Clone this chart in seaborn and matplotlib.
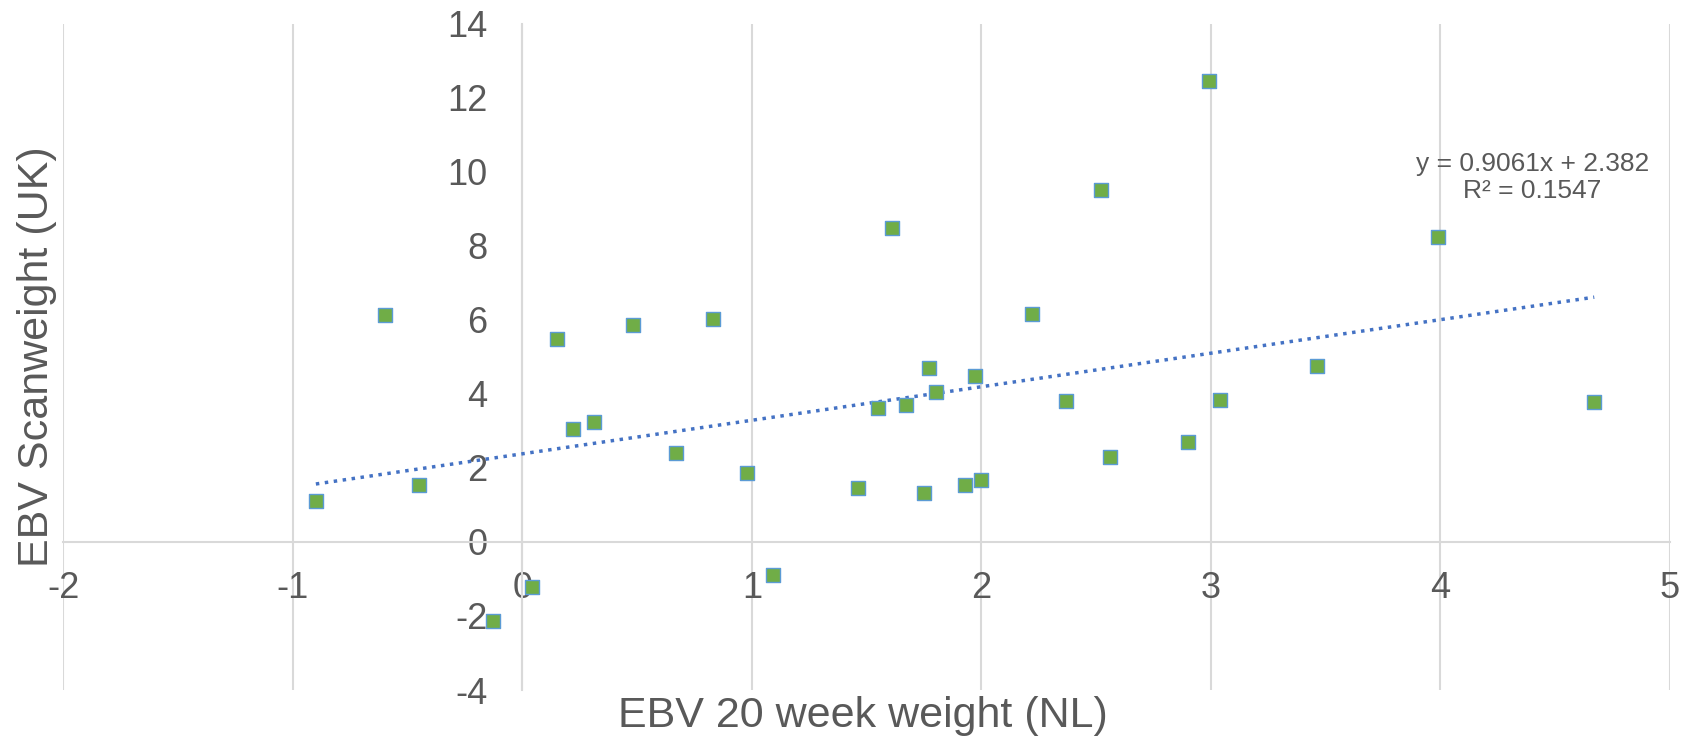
import numpy as np
import pandas as pd
import matplotlib
matplotlib.use("Agg")
import matplotlib.pyplot as plt
import seaborn as sns

# Data
ebv_nl = [-0.90, -0.60, -0.45, -0.13, 0.04, 0.15, 0.22, 0.31, 0.48, 0.67, 0.83,
          0.98, 1.09, 1.46, 1.55, 1.61, 1.67, 1.75, 1.77, 1.80, 1.93, 1.97,
          2.00, 2.22, 2.37, 2.52, 2.56, 2.90, 2.99, 3.04, 3.46, 3.99, 4.67]
ebv_uk = [1.10, 6.12, 1.54, -2.14, -1.22, 5.48, 3.04, 3.25, 5.86, 2.41, 6.03,
          1.86, -0.90, 1.45, 3.62, 8.49, 3.71, 1.33, 4.70, 4.06, 1.54, 4.49,
          1.68, 6.17, 3.80, 9.51, 2.29, 2.70, 12.46, 3.83, 4.75, 8.23, 3.77]
slope = 0.9061
intercept = 2.382
r_squared = 0.1547
x_ticks = [-2, -1, 0, 1, 2, 3, 4, 5]
y_ticks = [-4, -2, 0, 2, 4, 6, 8, 10, 12, 14]
x_label = "EBV 20 week weight (NL)"
y_label = "EBV Scanweight (UK)"

sns.set_theme(style="white")
plt.rcParams['font.family'] = ['Liberation Sans', 'DejaVu Sans']

text_col = "#595959"
grid_col = "#D9D9D9"

fig = plt.figure(figsize=(16.86, 7.43), dpi=100)
ax = fig.add_axes([0.0376, 0.0713, 0.9529, 0.8967])

df = pd.DataFrame({"nl": ebv_nl, "uk": ebv_uk})
sns.scatterplot(data=df, x="nl", y="uk", ax=ax, marker="s", s=115,
                color="#70AD47", edgecolor="#5B9BD5", linewidth=1.0, zorder=4)

xs = np.array([min(ebv_nl), max(ebv_nl)])
tl = pd.DataFrame({"x": xs, "y": slope * xs + intercept})
sns.lineplot(data=tl, x="x", y="y", ax=ax, color="#4472C4", linestyle=(0, (1, 1.6)),
             linewidth=2.5, zorder=3)

ax.set_xlim(-2, 5)
ax.set_ylim(-4, 14)
ax.set_xticks(x_ticks)
ax.set_yticks(y_ticks)
ax.set_xticklabels([str(v) for v in x_ticks])
ax.set_yticklabels([str(v) for v in y_ticks])
ax.xaxis.grid(True, color=grid_col, linewidth=1.5)
ax.yaxis.grid(False)
for s in ["top", "right"]:
    ax.spines[s].set_visible(False)
ax.spines["left"].set_position(("data", 0))
ax.spines["bottom"].set_position(("data", 0))
for s in ["left", "bottom"]:
    ax.spines[s].set_color(grid_col)
    ax.spines[s].set_linewidth(1.5)
ax.tick_params(axis="both", length=0, labelsize=26, labelcolor=text_col)
ax.tick_params(axis="y", pad=25)
ax.tick_params(axis="x", pad=21)
ax.set_xlabel("")
ax.set_ylabel("")

fig.text(0.512, 0.036, x_label, ha="center", va="center", fontsize=31, color=text_col)
fig.text(0.022, 0.52, y_label, ha="center", va="center", rotation=90, fontsize=31, color=text_col)

ax.text(4.4, 9.85, f"y = {slope}x + {intercept}\nR² = {r_squared}", ha="center", va="center",
        fontsize=19, color=text_col, linespacing=1.15)

fig.savefig("out.png", dpi=100)
